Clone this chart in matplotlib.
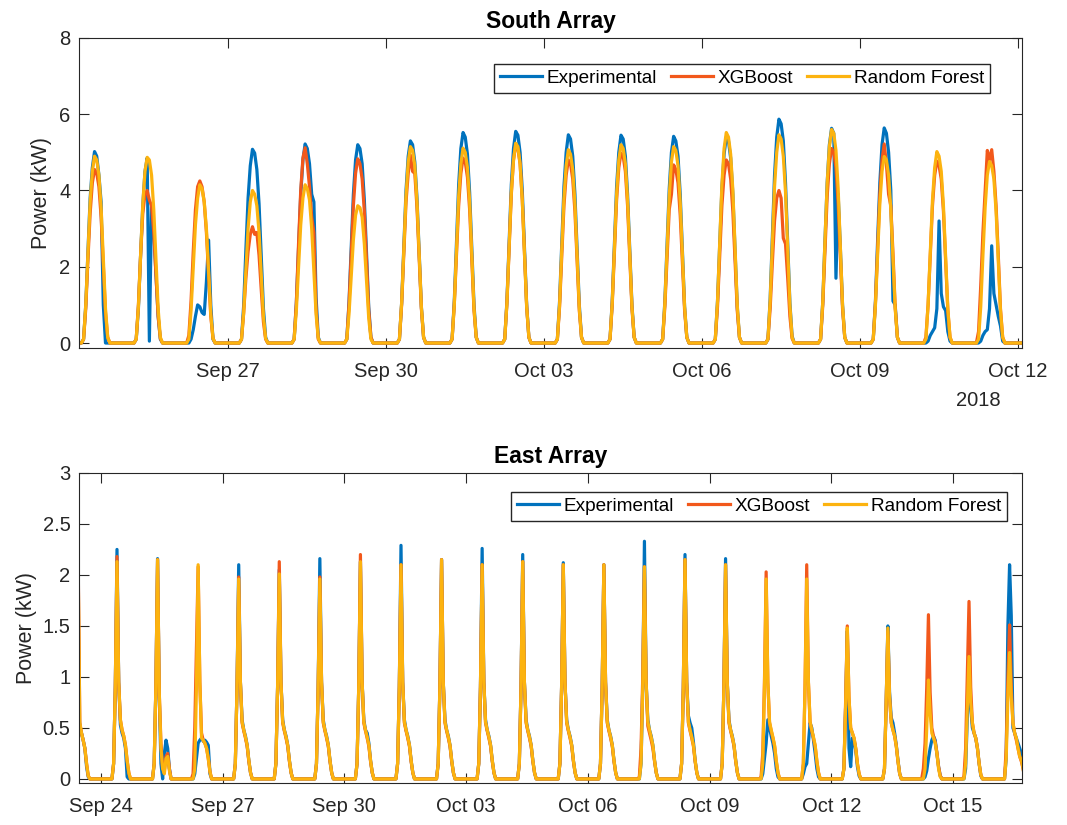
import datetime as dt

import matplotlib
matplotlib.use('Agg')
import matplotlib.dates as mdates
import matplotlib.pyplot as plt
from matplotlib.ticker import FuncFormatter

plt.rcParams['font.family'] = ['Liberation Sans', 'DejaVu Sans']

SERIES_NAMES = ['Experimental', 'XGBoost', 'Random Forest']
SERIES_COLORS = ['#0072BD', '#F2581B', '#FCB30F']

# South array: one row per day (Sep 24 .. Oct 11), hourly values 06:00 .. 18:00
SOUTH_START = dt.datetime(2018, 9, 24)
SOUTH_HOURS = [6, 7, 8, 9, 10, 11, 12, 13, 14, 15, 16, 17, 18]

SOUTH_EXPERIMENTAL = [
    [0.10, 1.00, 2.40, 3.80, 4.60, 5.02, 4.90, 4.40, 3.70, 1.00, 0.00, 0.00, 0.00],
    [0.10, 0.90, 2.30, 3.60, 4.50, 4.85, 0.05, 3.60, 3.00, 1.80, 0.70, 0.10, 0.00],
    [0.00, 0.10, 0.35, 0.70, 1.00, 0.95, 0.80, 0.75, 1.60, 2.70, 1.00, 0.10, 0.00],
    [0.10, 1.00, 2.45, 3.80, 4.65, 5.08, 4.98, 4.55, 3.65, 2.30, 0.90, 0.15, 0.00],
    [0.10, 1.05, 2.50, 3.90, 4.80, 5.22, 5.10, 4.70, 3.90, 3.70, 1.20, 0.15, 0.00],
    [0.10, 1.05, 2.50, 3.90, 4.80, 5.20, 5.10, 4.70, 3.75, 2.35, 0.95, 0.15, 0.00],
    [0.10, 1.05, 2.55, 4.00, 4.90, 5.30, 5.20, 4.75, 3.80, 2.40, 0.95, 0.15, 0.00],
    [0.10, 1.10, 2.65, 4.15, 5.10, 5.52, 5.40, 4.95, 3.95, 2.50, 1.00, 0.15, 0.00],
    [0.10, 1.10, 2.65, 4.15, 5.10, 5.55, 5.45, 5.00, 4.00, 2.50, 1.00, 0.15, 0.00],
    [0.10, 1.10, 2.60, 4.10, 5.00, 5.46, 5.35, 4.90, 3.90, 2.45, 1.00, 0.15, 0.00],
    [0.10, 1.10, 2.60, 4.10, 5.00, 5.45, 5.35, 4.90, 3.90, 2.45, 1.00, 0.15, 0.00],
    [0.10, 1.10, 2.60, 4.05, 5.00, 5.42, 5.30, 4.90, 3.90, 2.45, 0.95, 0.15, 0.00],
    [0.10, 1.10, 2.60, 4.05, 4.95, 5.40, 5.30, 4.85, 3.90, 2.45, 0.95, 0.15, 0.00],
    [0.10, 1.15, 2.80, 4.40, 5.40, 5.87, 5.75, 5.30, 4.20, 2.65, 1.05, 0.18, 0.00],
    [0.10, 1.10, 2.70, 4.20, 5.20, 5.63, 5.50, 1.70, 3.90, 2.50, 1.00, 0.15, 0.00],
    [0.10, 1.10, 2.70, 4.20, 5.20, 5.64, 5.50, 5.00, 4.00, 1.10, 1.00, 0.15, 0.00],
    [0.00, 0.05, 0.20, 0.30, 0.40, 0.90, 3.20, 1.30, 0.95, 0.85, 0.30, 0.05, 0.00],
    [0.00, 0.05, 0.20, 0.30, 0.35, 0.90, 2.55, 1.30, 1.00, 0.70, 0.45, 0.05, 0.00],
]

SOUTH_XGBOOST = [
    [0.10, 0.90, 2.20, 3.40, 4.20, 4.55, 4.45, 4.10, 3.30, 2.05, 0.80, 0.15, 0.00],
    [0.10, 1.00, 2.30, 3.40, 3.90, 4.00, 3.75, 3.60, 2.90, 1.80, 0.70, 0.12, 0.00],
    [0.20, 1.10, 2.40, 3.50, 4.10, 4.25, 4.10, 3.70, 2.90, 1.80, 0.70, 0.12, 0.00],
    [0.10, 0.80, 1.70, 2.40, 2.85, 3.05, 2.85, 2.90, 2.30, 1.40, 0.55, 0.10, 0.00],
    [0.10, 1.05, 2.60, 4.00, 4.85, 5.12, 4.70, 4.10, 3.30, 2.90, 0.90, 0.10, 0.00],
    [0.10, 1.00, 2.30, 3.60, 4.45, 4.83, 4.70, 4.30, 3.45, 2.15, 0.85, 0.15, 0.00],
    [0.10, 1.00, 2.35, 3.70, 4.45, 4.93, 4.50, 4.45, 3.55, 2.20, 0.90, 0.15, 0.00],
    [0.10, 1.00, 2.30, 3.60, 4.45, 4.85, 4.75, 4.35, 3.50, 2.20, 0.85, 0.15, 0.00],
    [0.10, 1.05, 2.50, 3.90, 4.80, 5.20, 5.10, 4.70, 3.75, 2.35, 0.95, 0.15, 0.00],
    [0.10, 0.95, 2.30, 3.60, 4.40, 4.80, 4.70, 4.30, 3.45, 2.15, 0.85, 0.15, 0.00],
    [0.10, 1.00, 2.40, 3.75, 4.60, 4.98, 4.90, 4.50, 3.60, 2.25, 0.90, 0.15, 0.00],
    [0.10, 0.95, 2.25, 3.50, 3.90, 4.67, 4.55, 4.20, 3.35, 2.10, 0.85, 0.15, 0.00],
    [0.10, 0.95, 2.30, 3.60, 4.40, 4.80, 4.70, 4.30, 3.45, 2.15, 0.85, 0.15, 0.00],
    [0.10, 0.90, 2.10, 3.20, 3.80, 4.00, 3.80, 2.75, 2.60, 1.70, 0.70, 0.12, 0.00],
    [0.10, 1.00, 2.45, 3.85, 4.70, 5.10, 5.00, 4.60, 3.65, 2.30, 0.90, 0.15, 0.00],
    [0.10, 1.05, 2.50, 3.90, 4.80, 5.22, 4.70, 3.90, 3.60, 2.35, 0.95, 0.15, 0.00],
    [0.15, 1.00, 2.30, 3.60, 4.40, 4.77, 4.65, 4.30, 3.45, 2.15, 0.85, 0.15, 0.00],
    [0.30, 1.50, 2.90, 4.00, 5.05, 4.80, 5.07, 4.50, 3.60, 2.30, 0.90, 0.15, 0.00],
]

SOUTH_RANDOM_FOREST = [
    [0.10, 1.00, 2.35, 3.70, 4.50, 4.90, 4.80, 4.40, 3.55, 2.20, 0.90, 0.15, 0.00],
    [0.10, 0.95, 2.30, 3.65, 4.50, 4.87, 4.80, 4.40, 3.50, 2.20, 0.90, 0.15, 0.00],
    [0.10, 0.85, 2.00, 3.10, 3.80, 4.15, 4.05, 3.70, 3.00, 1.85, 0.75, 0.12, 0.00],
    [0.10, 0.80, 1.90, 3.00, 3.70, 4.00, 3.90, 3.60, 2.90, 1.80, 0.70, 0.12, 0.00],
    [0.10, 0.85, 2.00, 3.10, 3.80, 4.15, 4.05, 3.75, 3.00, 1.85, 0.75, 0.12, 0.00],
    [0.10, 0.75, 1.75, 2.70, 3.35, 3.60, 3.55, 3.30, 2.60, 1.60, 0.65, 0.10, 0.00],
    [0.10, 1.05, 2.45, 3.85, 4.75, 5.15, 5.05, 4.65, 3.70, 2.30, 0.95, 0.15, 0.00],
    [0.10, 1.00, 2.45, 3.85, 4.70, 5.11, 5.00, 4.60, 3.70, 2.30, 0.90, 0.15, 0.00],
    [0.10, 1.05, 2.50, 3.95, 4.80, 5.24, 5.15, 4.70, 3.75, 2.35, 0.95, 0.15, 0.00],
    [0.10, 1.00, 2.45, 3.80, 4.65, 5.07, 4.95, 4.55, 3.65, 2.30, 0.90, 0.15, 0.00],
    [0.10, 1.05, 2.50, 3.90, 4.80, 5.20, 5.10, 4.70, 3.75, 2.35, 0.95, 0.15, 0.00],
    [0.10, 1.05, 2.45, 3.85, 4.75, 5.15, 5.05, 4.65, 3.70, 2.30, 0.95, 0.15, 0.00],
    [0.10, 1.10, 2.65, 4.15, 5.10, 5.52, 5.40, 4.95, 4.00, 2.50, 1.00, 0.15, 0.00],
    [0.10, 1.10, 2.60, 4.10, 5.00, 5.46, 5.35, 4.90, 3.95, 2.45, 1.00, 0.15, 0.00],
    [0.10, 1.10, 2.70, 4.20, 5.15, 5.60, 5.50, 5.05, 4.05, 2.50, 1.00, 0.15, 0.00],
    [0.10, 1.00, 2.35, 3.65, 4.50, 4.89, 4.80, 4.40, 3.50, 2.20, 0.90, 0.15, 0.00],
    [0.10, 1.00, 2.40, 3.75, 4.60, 5.02, 4.90, 4.50, 3.60, 2.25, 0.90, 0.15, 0.00],
    [0.10, 0.95, 2.30, 3.55, 4.40, 4.76, 4.65, 4.30, 3.45, 2.15, 0.85, 0.15, 0.00],
]

# East array: one row per day (Sep 23 .. Oct 16), hourly values 06:30 .. 17:30
EAST_START = dt.datetime(2018, 9, 23)
EAST_HOURS = [6.5, 7.5, 8.5, 9.5, 10.5, 11.5, 12.5, 13.5, 14.5, 15.5, 16.5, 17.5]

EAST_EXPERIMENTAL = [
    [0.00, 0.10, 0.80, 2.00, 0.80, 0.50, 0.45, 0.38, 0.30, 0.12, 0.02, 0.00],
    [0.00, 0.15, 0.90, 2.25, 0.95, 0.53, 0.45, 0.40, 0.30, 0.02, 0.00, 0.00],
    [0.00, 0.15, 0.90, 2.16, 0.80, 0.15, 0.00, 0.25, 0.38, 0.30, 0.10, 0.00],
    [0.00, 0.05, 0.20, 0.35, 0.38, 0.40, 0.37, 0.38, 0.36, 0.33, 0.05, 0.00],
    [0.00, 0.15, 0.90, 2.10, 0.95, 0.58, 0.48, 0.42, 0.33, 0.18, 0.06, 0.00],
    [0.00, 0.15, 0.90, 2.05, 0.95, 0.58, 0.48, 0.42, 0.33, 0.18, 0.06, 0.00],
    [0.00, 0.15, 0.90, 2.16, 0.95, 0.58, 0.48, 0.42, 0.33, 0.18, 0.06, 0.00],
    [0.00, 0.15, 0.90, 2.13, 0.95, 0.58, 0.48, 0.45, 0.35, 0.18, 0.06, 0.00],
    [0.00, 0.15, 0.90, 2.29, 0.95, 0.58, 0.48, 0.42, 0.33, 0.18, 0.06, 0.00],
    [0.00, 0.15, 0.90, 2.15, 0.95, 0.58, 0.48, 0.42, 0.33, 0.18, 0.06, 0.00],
    [0.00, 0.15, 0.90, 2.26, 0.95, 0.58, 0.48, 0.42, 0.33, 0.18, 0.06, 0.00],
    [0.00, 0.15, 0.90, 2.20, 0.95, 0.58, 0.48, 0.42, 0.33, 0.18, 0.06, 0.00],
    [0.00, 0.15, 0.90, 2.12, 0.95, 0.58, 0.48, 0.42, 0.33, 0.18, 0.06, 0.00],
    [0.00, 0.15, 0.90, 2.10, 0.95, 0.58, 0.48, 0.42, 0.33, 0.18, 0.06, 0.00],
    [0.00, 0.15, 0.90, 2.33, 0.95, 0.58, 0.48, 0.42, 0.33, 0.18, 0.06, 0.00],
    [0.00, 0.15, 0.90, 2.20, 0.95, 0.62, 0.55, 0.50, 0.36, 0.18, 0.06, 0.00],
    [0.00, 0.15, 0.90, 2.16, 0.95, 0.58, 0.48, 0.42, 0.33, 0.18, 0.06, 0.00],
    [0.00, 0.05, 0.20, 0.35, 0.58, 0.50, 0.42, 0.35, 0.25, 0.10, 0.02, 0.00],
    [0.00, 0.05, 0.12, 0.15, 0.35, 0.55, 0.50, 0.38, 0.25, 0.10, 0.02, 0.00],
    [0.00, 0.10, 0.70, 1.45, 0.30, 0.12, 0.40, 0.38, 0.28, 0.12, 0.03, 0.00],
    [0.00, 0.10, 0.75, 1.50, 0.85, 0.60, 0.55, 0.45, 0.33, 0.18, 0.05, 0.00],
    [0.00, 0.02, 0.08, 0.20, 0.30, 0.38, 0.42, 0.38, 0.25, 0.12, 0.03, 0.00],
    [0.00, 0.10, 0.60, 1.15, 0.70, 0.50, 0.45, 0.40, 0.30, 0.15, 0.03, 0.00],
    [0.00, 0.20, 1.50, 2.10, 1.60, 0.50, 0.45, 0.40, 0.35, 0.30, 0.25, 0.20],
]

EAST_XGBOOST = [
    [0.00, 0.10, 0.90, 2.10, 2.20, 0.55, 0.45, 0.38, 0.30, 0.15, 0.03, 0.00],
    [0.00, 0.15, 0.90, 2.18, 0.95, 0.58, 0.48, 0.42, 0.33, 0.18, 0.06, 0.00],
    [0.00, 0.15, 0.90, 2.15, 0.85, 0.35, 0.10, 0.08, 0.22, 0.25, 0.10, 0.00],
    [0.05, 0.50, 1.30, 2.08, 0.95, 0.45, 0.38, 0.35, 0.30, 0.20, 0.07, 0.00],
    [0.00, 0.15, 0.90, 1.98, 0.95, 0.55, 0.47, 0.40, 0.32, 0.17, 0.06, 0.00],
    [0.00, 0.15, 0.90, 2.13, 0.95, 0.55, 0.47, 0.40, 0.32, 0.17, 0.06, 0.00],
    [0.00, 0.15, 0.90, 1.98, 0.95, 0.55, 0.47, 0.40, 0.32, 0.17, 0.06, 0.00],
    [0.00, 0.15, 0.90, 2.20, 0.95, 0.55, 0.47, 0.40, 0.32, 0.17, 0.06, 0.00],
    [0.00, 0.15, 0.90, 2.10, 0.95, 0.55, 0.47, 0.40, 0.32, 0.17, 0.06, 0.00],
    [0.00, 0.15, 0.90, 2.15, 0.95, 0.55, 0.47, 0.40, 0.32, 0.17, 0.06, 0.00],
    [0.00, 0.15, 0.90, 2.10, 0.95, 0.55, 0.47, 0.40, 0.32, 0.17, 0.06, 0.00],
    [0.00, 0.15, 0.90, 2.13, 0.95, 0.55, 0.47, 0.40, 0.32, 0.17, 0.06, 0.00],
    [0.00, 0.15, 0.90, 2.10, 0.95, 0.55, 0.47, 0.40, 0.32, 0.17, 0.06, 0.00],
    [0.00, 0.15, 0.90, 2.10, 0.95, 0.55, 0.47, 0.40, 0.32, 0.17, 0.06, 0.00],
    [0.02, 0.30, 1.00, 2.08, 0.95, 0.52, 0.45, 0.38, 0.30, 0.17, 0.06, 0.00],
    [0.00, 0.15, 0.90, 2.15, 0.95, 0.55, 0.47, 0.40, 0.32, 0.17, 0.06, 0.00],
    [0.00, 0.15, 0.90, 2.10, 0.95, 0.55, 0.47, 0.40, 0.32, 0.17, 0.06, 0.00],
    [0.02, 0.25, 0.95, 2.03, 0.95, 0.55, 0.47, 0.40, 0.32, 0.17, 0.06, 0.00],
    [0.00, 0.15, 0.90, 2.10, 0.95, 0.55, 0.47, 0.40, 0.32, 0.17, 0.06, 0.00],
    [0.00, 0.10, 0.75, 1.50, 0.80, 0.50, 0.45, 0.40, 0.30, 0.15, 0.05, 0.00],
    [0.00, 0.10, 0.75, 1.45, 0.80, 0.55, 0.48, 0.42, 0.32, 0.17, 0.05, 0.00],
    [0.10, 0.35, 0.90, 1.61, 0.85, 0.50, 0.42, 0.36, 0.26, 0.12, 0.03, 0.00],
    [0.02, 0.30, 1.00, 1.74, 0.90, 0.55, 0.45, 0.40, 0.30, 0.15, 0.04, 0.00],
    [0.00, 0.30, 1.00, 1.51, 0.90, 0.55, 0.45, 0.38, 0.30, 0.22, 0.17, 0.10],
]

EAST_RANDOM_FOREST = [
    [0.00, 0.10, 0.90, 2.10, 2.10, 0.55, 0.45, 0.38, 0.30, 0.15, 0.03, 0.00],
    [0.00, 0.15, 0.90, 2.13, 0.95, 0.58, 0.48, 0.42, 0.33, 0.18, 0.06, 0.00],
    [0.00, 0.15, 0.90, 2.15, 0.85, 0.30, 0.10, 0.05, 0.20, 0.22, 0.08, 0.00],
    [0.00, 0.10, 0.90, 2.10, 0.95, 0.40, 0.38, 0.35, 0.30, 0.20, 0.07, 0.00],
    [0.00, 0.15, 0.90, 1.96, 0.95, 0.56, 0.48, 0.41, 0.33, 0.18, 0.06, 0.00],
    [0.00, 0.15, 0.90, 2.01, 0.95, 0.56, 0.48, 0.41, 0.33, 0.18, 0.06, 0.00],
    [0.00, 0.15, 0.90, 1.96, 0.95, 0.56, 0.48, 0.41, 0.33, 0.18, 0.06, 0.00],
    [0.00, 0.15, 0.90, 2.13, 0.95, 0.56, 0.48, 0.41, 0.33, 0.18, 0.06, 0.00],
    [0.00, 0.15, 0.90, 2.10, 0.95, 0.56, 0.48, 0.41, 0.33, 0.18, 0.06, 0.00],
    [0.00, 0.15, 0.90, 2.15, 0.95, 0.56, 0.48, 0.41, 0.33, 0.18, 0.06, 0.00],
    [0.00, 0.15, 0.90, 2.10, 0.95, 0.56, 0.48, 0.41, 0.33, 0.18, 0.06, 0.00],
    [0.00, 0.15, 0.90, 2.13, 0.95, 0.56, 0.48, 0.41, 0.33, 0.18, 0.06, 0.00],
    [0.00, 0.15, 0.90, 2.10, 0.95, 0.56, 0.48, 0.41, 0.33, 0.18, 0.06, 0.00],
    [0.00, 0.15, 0.90, 2.10, 0.95, 0.56, 0.48, 0.41, 0.33, 0.18, 0.06, 0.00],
    [0.00, 0.15, 0.90, 2.08, 0.95, 0.56, 0.48, 0.41, 0.33, 0.18, 0.06, 0.00],
    [0.00, 0.15, 0.90, 2.15, 0.95, 0.56, 0.48, 0.41, 0.33, 0.18, 0.06, 0.00],
    [0.00, 0.15, 0.90, 2.10, 0.95, 0.56, 0.48, 0.41, 0.33, 0.18, 0.06, 0.00],
    [0.00, 0.15, 0.90, 1.96, 0.95, 0.56, 0.48, 0.41, 0.33, 0.18, 0.06, 0.00],
    [0.00, 0.15, 0.90, 1.96, 0.95, 0.56, 0.48, 0.41, 0.33, 0.18, 0.06, 0.00],
    [0.00, 0.10, 0.70, 1.48, 0.80, 0.50, 0.45, 0.40, 0.30, 0.15, 0.05, 0.00],
    [0.00, 0.10, 0.75, 1.48, 0.80, 0.55, 0.48, 0.42, 0.32, 0.17, 0.05, 0.00],
    [0.00, 0.10, 0.50, 0.97, 0.65, 0.45, 0.40, 0.35, 0.25, 0.10, 0.02, 0.00],
    [0.00, 0.15, 0.70, 1.20, 0.75, 0.55, 0.45, 0.40, 0.30, 0.15, 0.04, 0.00],
    [0.00, 0.20, 0.80, 1.24, 0.80, 0.55, 0.45, 0.40, 0.30, 0.22, 0.18, 0.10],
]


def build_series(start, hours, rows):
    # daytime readings per day, zero through the night
    times, values = [], []
    for d, row in enumerate(rows):
        day = start + dt.timedelta(days=d)
        times += [day, day + dt.timedelta(hours=hours[0] - 1)]
        values += [0.0, 0.0]
        for h, v in zip(hours, row):
            times.append(day + dt.timedelta(hours=h))
            values.append(v)
        times.append(day + dt.timedelta(hours=hours[-1] + 1))
        values.append(0.0)
    times.append(start + dt.timedelta(days=len(rows) + 1))
    values.append(0.0)
    return times, values


def draw_panel(ax, title, start, hours, all_rows, xlim, first_tick, ylim, yticks, legend_anchor):
    for name, rows, color in zip(SERIES_NAMES, all_rows, SERIES_COLORS):
        t, v = build_series(start, hours, rows)
        ax.plot(t, v, color=color, lw=2.3, label=name, solid_joinstyle='round')

    ax.set_xlim(xlim)
    ax.set_ylim(ylim)
    ax.set_yticks(yticks)
    ax.yaxis.set_major_formatter(FuncFormatter(lambda y, _: f'{y:g}'))
    ticks = [first_tick + dt.timedelta(days=3 * i) for i in range(9)]
    ax.set_xticks([t for t in ticks if t <= xlim[1]])
    ax.xaxis.set_major_formatter(mdates.DateFormatter('%b %d'))

    ax.tick_params(direction='in', top=True, right=True, length=7, width=0.8,
                   labelsize=14.5, colors='#262626')
    ax.tick_params(axis='x', pad=10)
    ax.tick_params(axis='y', pad=6)
    for spine in ax.spines.values():
        spine.set_color('#262626')
        spine.set_linewidth(0.8)

    ax.set_title(title, fontsize=16.5, fontweight='bold', pad=7)
    ax.set_ylabel('Power (kW)', fontsize=15.5, color='#262626')

    ax.legend(loc='upper right', bbox_to_anchor=legend_anchor, ncol=3, fontsize=13.7,
              frameon=True, fancybox=False, framealpha=1, edgecolor='#262626',
              borderaxespad=0, borderpad=0.3, handlelength=2.2, handletextpad=0.25,
              columnspacing=0.75)


fig = plt.figure(figsize=(10.67, 8.25), dpi=100)
ax_south = fig.add_axes([0.0740, 0.5782, 0.8838, 0.3758])
ax_east = fig.add_axes([0.0740, 0.0509, 0.8838, 0.3758])

draw_panel(ax_south, 'South Array', SOUTH_START, SOUTH_HOURS,
           [SOUTH_EXPERIMENTAL, SOUTH_XGBOOST, SOUTH_RANDOM_FOREST],
           (dt.datetime(2018, 9, 24, 3, 54), dt.datetime(2018, 10, 12, 1, 48)),
           dt.datetime(2018, 9, 27), (-0.13, 8), [0, 2, 4, 6, 8], (0.966, 0.916))
ax_south.yaxis.set_label_coords(-0.029, 0.5)
ax_south.text(0.954, -0.168, '2018', transform=ax_south.transAxes,
              ha='center', va='center', fontsize=14.5, color='#262626')

draw_panel(ax_east, 'East Array', EAST_START, EAST_HOURS,
           [EAST_EXPERIMENTAL, EAST_XGBOOST, EAST_RANDOM_FOREST],
           (dt.datetime(2018, 9, 23, 11, 0), dt.datetime(2018, 10, 16, 16, 50)),
           dt.datetime(2018, 9, 24), (-0.04, 3), [0, 0.5, 1, 1.5, 2, 2.5, 3], (0.984, 0.939))
ax_east.yaxis.set_label_coords(-0.045, 0.5)

fig.savefig('out.png', dpi=100)
